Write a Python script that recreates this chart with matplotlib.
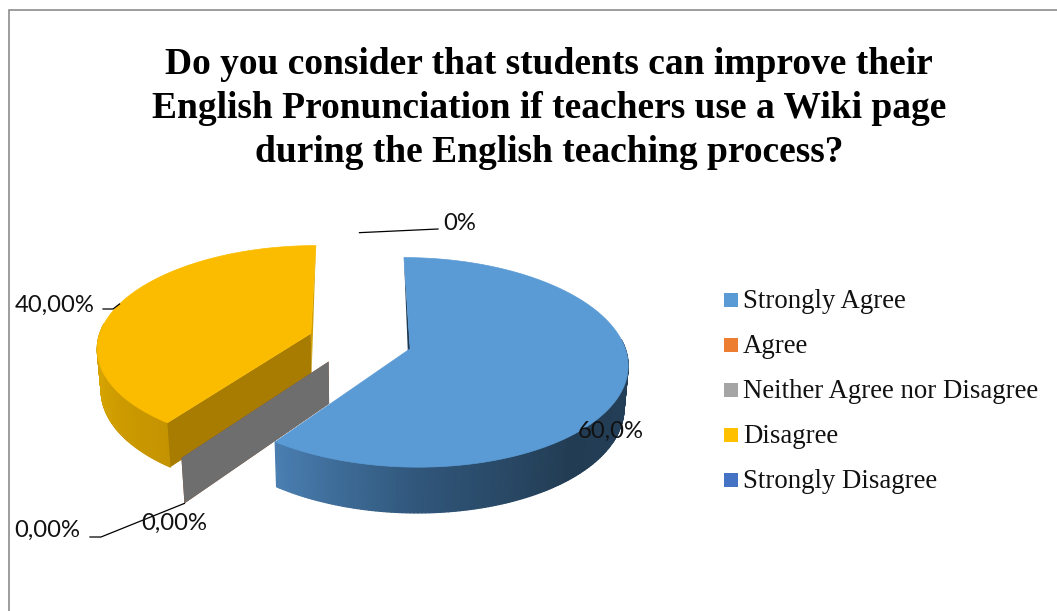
import numpy as np
import matplotlib
matplotlib.use('Agg')
import matplotlib.pyplot as plt
from matplotlib.collections import PolyCollection
from matplotlib.colors import to_rgb
from matplotlib.patches import Polygon, Rectangle

# answers to the survey question
categories = ['Strongly Agree', 'Agree', 'Neither Agree nor Disagree', 'Disagree', 'Strongly Disagree']
values = [60.0, 0.0, 0.0, 40.0, 0.0]
value_labels = ['60,0%', '0,00%', '0,00%', '40,00%', '0%']
colors = ['#5B9BD5', '#ED7D31', '#A5A5A5', '#FFC000', '#4472C4']
top_colors = ['#5B9BD5', '#ED7D31', '#A5A5A5', '#FBBC00', '#4472C4']
wall_colors = ['#1F3A52', '#8E4B1D', '#6E6E6E', '#A87C00', '#29447A']
far_wall_colors = ['#1F3A52', '#8E4B1D', '#6E6E6E', '#CF9E00', '#29447A']
title = ('Do you consider that students can improve their\n'
         'English Pronunciation if teachers use a Wiki page\n'
         'during the English teaching process?')

# pie geometry, in pixels of the figure
GX, GY = 360.0, 341.0
A, B = 213.0, -0.5
K = 101.0
PERSP = 0.129
DEPTH = 42.0
SHRINK = 0.015
EXPLODE = 0.245


def project(theta, rho, mid, z=0.0):
    # theta clockwise from 12 o'clock, mid is the direction the slice is pulled out to
    t, m = np.radians(theta), np.radians(mid)
    u = rho * np.sin(t) + EXPLODE * np.sin(m)
    v = rho * np.cos(t) + EXPLODE * np.cos(m)
    w = 1 + PERSP * v + SHRINK * z
    return GX + (A * u + B * v) / w, GY + (-K * v + DEPTH * z) / w


def wall_poly(a, mid):
    return [project(a, 0, mid), project(a, 1, mid), project(a, 1, mid, 1), project(a, 0, mid, 1)]


def shade(theta, stops, cols):
    rgb = np.array([to_rgb(c) for c in cols])
    return tuple(np.interp(theta, stops, rgb[:, i]) for i in range(3))


# side shading per slice: angle stops and colours
side_stops = {0: ([90, 140, 180, 216], ['#24405A', '#223C53', '#30567A', '#4A7FB2']),
              3: ([216, 250, 300, 360], ['#C49300', '#D3A100', '#DDAB00', '#DDAB00'])}

fig = plt.figure(figsize=(10.57, 6.11), dpi=100)
ax = fig.add_axes([0, 0, 1, 1])
ax.set_xlim(0, 1057)
ax.set_ylim(611, 0)
ax.axis('off')

# chart frame
ax.plot([8.5, 8.5, 1057], [611, 9.5, 9.5], color='#8C8C8C', lw=1.2, solid_joinstyle='miter')

ax.text(549, 108.5, title, ha='center', va='center', family='Liberation Serif',
        weight='bold', fontsize=27, linespacing=1.32, color='black')

edges = np.cumsum([0.0] + values) / sum(values) * 360.0
order = [3, 1, 2, 0]  # back to front
for i in order:
    start, stop = edges[i], edges[i + 1]
    mid = (start + stop) / 2.0
    zo = 2 + order.index(i)
    if stop == start:
        # empty slice, only its wall is left
        ax.add_patch(Polygon(wall_poly(start, mid), closed=True, fc=wall_colors[i], ec='none', zorder=zo))
        continue
    # rounded outer side, cut in thin strips for the shading, visible part only
    th = np.linspace(start, stop, 240)
    quads, cols = [], []
    for t0, t1 in zip(th[:-1], th[1:]):
        if np.cos(np.radians(t0)) > 0.1 or np.cos(np.radians(t1)) > 0.1:
            continue
        quads.append([project(t0, 1, mid), project(t1, 1, mid), project(t1, 1, mid, 1), project(t0, 1, mid, 1)])
        cols.append(shade((t0 + t1) / 2, *side_stops[i]))
    ax.add_collection(PolyCollection(quads, facecolors=cols, edgecolors=cols, linewidths=0.9, zorder=zo))
    # far cut edge shows as a sliver down to the foot of the apex
    far = start if i == 0 else stop
    sliver = [project(far, 1, mid), project(far, 0, mid), project(far, 0, mid, 1)]
    ax.add_patch(Polygon(sliver, closed=True, fc=far_wall_colors[i], ec='none', zorder=zo))
    # the yellow slice shows its near wall in front of the side
    if i == 3:
        ax.add_patch(Polygon(wall_poly(start, mid), closed=True, fc=wall_colors[i], ec='none', zorder=zo))
    # top face
    rim = [project(t, 1, mid) for t in th]
    ax.add_patch(Polygon([project(start, 0, mid)] + rim, closed=True, fc=top_colors[i], ec=top_colors[i], lw=0.5, zorder=zo))

# data labels and their leader lines
lab_font = dict(family='Lato', fontsize=17.2, color='#111111', zorder=10, va='center')
ax.text(578, 431, value_labels[0], ha='left', **lab_font)
ax.text(80, 530, value_labels[1], ha='right', **lab_font)
ax.text(141, 523, value_labels[2], ha='left', **lab_font)
ax.text(95, 305, value_labels[3], ha='right', **lab_font)
ax.text(443, 224, value_labels[4], ha='left', **lab_font)

end_x, end_y = project(edges[1], 1, edges[1], 1)
ax.plot([end_x, 101, 90], [end_y, 537, 537], color='black', lw=0.9, zorder=9)
end_x, end_y = project((edges[3] + edges[4]) / 2, 1, (edges[3] + edges[4]) / 2)
ax.plot([end_x, 113, 103], [end_y, 309, 309], color='black', lw=0.9, zorder=9)
end_x, end_y = project(edges[5], 1, edges[5])
ax.plot([end_x, 438], [end_y, 229], color='black', lw=0.9, zorder=9)

# legend
for n, (name, col) in enumerate(zip(categories, colors)):
    y = 300.3 + n * 45
    ax.add_patch(Rectangle((724, y - 7), 14, 14, fc=col, ec='none'))
    ax.text(743, y + 1.5, name, family='Liberation Serif', fontsize=19.3, va='center', ha='left', color='#111111')

fig.savefig('out.png', dpi=100)
